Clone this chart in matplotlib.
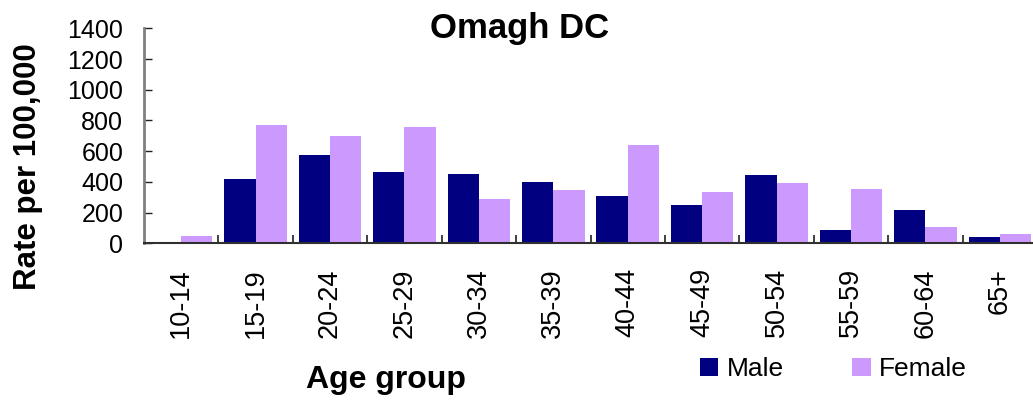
import numpy as np
import matplotlib
matplotlib.use('Agg')
import matplotlib.pyplot as plt

plt.rcParams['font.family'] = ['Liberation Sans', 'DejaVu Sans']

age_groups = ['10-14', '15-19', '20-24', '25-29', '30-34', '35-39',
              '40-44', '45-49', '50-54', '55-59', '60-64', '65+']
male_rate = [0, 419, 575, 464, 451, 399, 308, 250, 445, 87, 217, 41]
female_rate = [48, 771, 699, 758, 289, 347, 640, 334, 393, 354, 107, 60]

W, H = 1033, 401
fig = plt.figure(figsize=(W / 100, H / 100), dpi=100)
# axes runs a bit past the right edge, as in the original picture
ax = fig.add_axes([144 / W, (H - 243.3) / H, (1037 - 144) / W, (243.3 - 28.4) / H])

x = np.arange(len(age_groups))
bw = 0.42
ax.bar(x - bw / 2, male_rate, bw, color='#000080', label='Male')
ax.bar(x + bw / 2, female_rate, bw, color='#CC99FF', label='Female')

ax.set_xlim(-0.5, len(age_groups) - 0.5)
ax.set_ylim(0, 1400)
ax.set_yticks(range(0, 1401, 200))
ax.tick_params(axis='y', direction='in', length=5.5, width=1, color='#202020',
               labelsize=18, pad=15)

ax.set_xticks(x)
ax.set_xticklabels(age_groups, rotation=90, fontsize=19.5)
ax.tick_params(axis='x', which='major', length=0, pad=18)
ax.set_xticks(np.arange(0.5, len(age_groups) - 0.5, 1), minor=True)
ax.tick_params(axis='x', which='minor', direction='in', length=6, width=1.3, color='#303030')

for s in ['top', 'right']:
    ax.spines[s].set_visible(False)
ax.spines['left'].set_color('#808080')
ax.spines['left'].set_linewidth(2)
ax.spines['bottom'].set_color('#303030')
ax.spines['bottom'].set_linewidth(1.5)

fig.text(520 / W, (H - 38) / H, 'Omagh DC', fontsize=25, fontweight='bold',
         ha='center', va='baseline')
fig.text(28 / W, (H - 167) / H, 'Rate per 100,000', fontsize=22.5, fontweight='bold',
         rotation=90, ha='center', va='center')
fig.text(386 / W, (H - 388) / H, 'Age group', fontsize=23, fontweight='bold',
         ha='center', va='baseline')

ax.legend(loc='center left', bbox_to_anchor=(700 / W, (H - 369) / H),
          bbox_transform=fig.transFigure, ncol=2, frameon=False, fontsize=19,
          handlelength=0.7, handleheight=0.7, handletextpad=0.3,
          columnspacing=2.6, borderpad=0, borderaxespad=0)

fig.savefig('out.png', dpi=100)
